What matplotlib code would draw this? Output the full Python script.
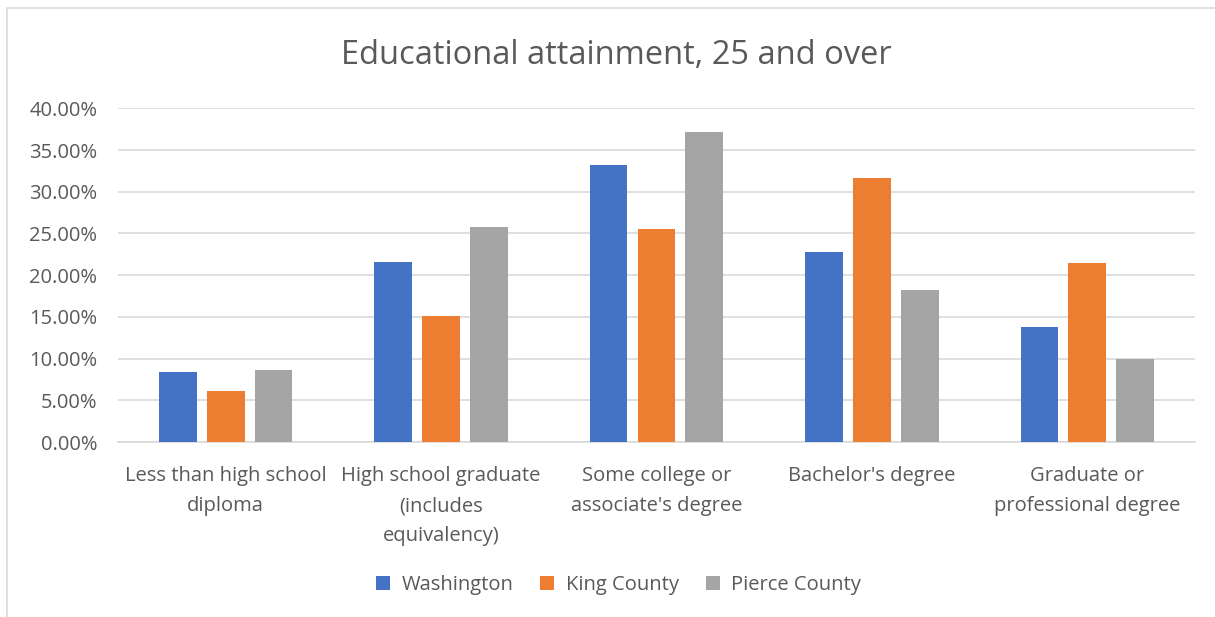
import numpy as np
import matplotlib
matplotlib.use('Agg')
import matplotlib.pyplot as plt
from matplotlib.patches import Rectangle
from matplotlib.ticker import FuncFormatter

plt.rcParams['font.family'] = ['Open Sans', 'DejaVu Sans']

categories = ['Less than high school\ndiploma',
              'High school graduate\n(includes\nequivalency)',
              'Some college or\nassociate\'s degree',
              'Bachelor\'s degree',
              'Graduate or\nprofessional degree']
series_names = ['Washington', 'King County', 'Pierce County']
washington = [0.0836, 0.2162, 0.3320, 0.2280, 0.1380]
king = [0.0608, 0.1505, 0.2550, 0.3165, 0.2140]
pierce = [0.0863, 0.2580, 0.3710, 0.1820, 0.1000]
colors = ['#4472C4', '#ED7D31', '#A5A5A5']

txt = '#595959'
fig = plt.figure(figsize=(12.15, 6.17), dpi=100)
ax = fig.add_axes([0.0971, 0.2836, 0.8864, 0.5409])

x = np.arange(len(categories))
w = 0.175
step = 0.222
for k, (vals, name) in enumerate(zip([washington, king, pierce], series_names)):
    ax.bar(x + (k - 1) * step, vals, width=w, color=colors[k], label=name, zorder=3)

ax.set_xlim(-0.5, len(categories) - 0.5)
ax.set_ylim(0, 0.40)
ax.set_yticks(np.arange(0, 0.401, 0.05))
ax.yaxis.set_major_formatter(FuncFormatter(lambda v, p: '%.2f%%' % (v * 100)))
ax.grid(axis='y', color='#D9D9D9', linewidth=1.2, zorder=0)
for s in ['top', 'right', 'left']:
    ax.spines[s].set_visible(False)
ax.spines['bottom'].set_color('#D9D9D9')
ax.spines['bottom'].set_linewidth(1.2)
ax.tick_params(axis='y', length=0, pad=15, labelsize=14.5, labelcolor=txt)
ax.tick_params(axis='x', length=0, pad=17.5, labelsize=14.5, labelcolor=txt)
ax.set_xticks(x)
ax.set_xticklabels(categories, linespacing=1.65, va='top')

fig.text(0.507, 0.91, 'Educational attainment, 25 and over', ha='center', va='center',
         fontsize=23.5, color=txt)

leg = fig.legend(loc='center', bbox_to_anchor=(0.509, 0.052), ncol=3, frameon=False,
                 fontsize=14.5, handlelength=0.7, handleheight=0.7, columnspacing=1.35,
                 handletextpad=0.55)
for t in leg.get_texts():
    t.set_color(txt)

fig.patches.append(Rectangle((7 / 1215, -0.1), 1.2, 1 - 8 / 617 + 0.1, transform=fig.transFigure,
                             fill=False, edgecolor='#D9D9D9', linewidth=1.2))

fig.savefig('out.png', dpi=100)
